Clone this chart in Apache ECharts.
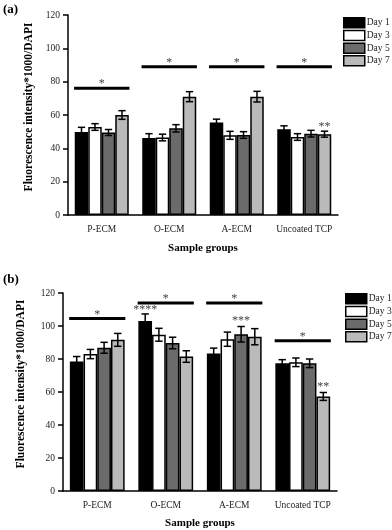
<!DOCTYPE html>
<html>
<head>
<meta charset="utf-8">
<script src="https://cdn.jsdelivr.net/npm/echarts@6/dist/echarts.min.js"></script>
<style>
  html, body { margin: 0; padding: 0; background: #fff; }
  #chart { width: 392px; height: 530px; }
</style>
</head>
<body>
<div id="chart"></div>
<script>
const groups = ['P-ECM', 'O-ECM', 'A-ECM', 'Uncoated TCP'];
const days = ['Day 1', 'Day 3', 'Day 5', 'Day 7'];
const dayColors = ['#000000', '#ffffff', '#6b6b6b', '#bababa'];

// panel (a)
const aDay1 = [49.8, 46.2, 55.5, 51.5];
const aDay3 = [52.8, 46.5, 47.8, 46.8];
const aDay5 = [49.5, 52, 48, 48.8];
const aDay7 = [60, 71, 71, 48.5];
const aErr1 = [2.8, 2.6, 2, 2];
const aErr3 = [2, 2, 2.4, 2];
const aErr5 = [1.8, 2.2, 2, 2];
const aErr7 = [2.6, 3, 3.2, 1.8];
const aGroupSig = [76, 89, 89, 89];
const aBarSig = [[3, 3, 53, '**']]; // group, day, y, label

// panel (b)
const bDay1 = [78.5, 103, 83.3, 77.4];
const bDay3 = [83, 94.7, 92, 78];
const bDay5 = [86.8, 89.7, 95, 77.4];
const bDay7 = [91.6, 81.5, 93.5, 57.3];
const bErr1 = [3, 4.3, 3.3, 2.2];
const bErr3 = [2.8, 3.9, 4.3, 2.6];
const bErr5 = [3.3, 3.5, 4.7, 2.6];
const bErr7 = [3.9, 3.5, 4.9, 2.4];
const bGroupSig = [104.6, 114, 114, 91];
const bBarSig = [[1, 0, 110, '****'], [2, 2, 103, '***'], [3, 3, 63, '**']];

const FONT = 'Liberation Serif';
const chart = echarts.init(document.getElementById('chart'));

const barLayout = (api, g, d, v) => {
  const band = api.size([1, 0])[0];
  const bw = band * 0.8 / 4;
  const c = api.coord([g, v]);
  return { x: c[0] - band * 0.4 + bw * (d + 0.5), bw: bw, band: band, cx: c[0] };
};

const buildPanel = (gi, means, errs, groupSig, barSig) => {
  const series = [];
  means.forEach((vals, d) => {
    series.push({
      name: days[d],
      type: 'bar',
      xAxisIndex: gi,
      yAxisIndex: gi,
      data: vals,
      barGap: '0%',
      barCategoryGap: '20%',
      itemStyle: { color: dayColors[d], borderColor: '#000', borderWidth: 1.5 },
      animation: false
    });
  });

  const errData = [];
  means.forEach((vals, d) => {
    vals.forEach((v, g) => errData.push([g, v, errs[d][g], d]));
  });
  series.push({
    type: 'custom',
    xAxisIndex: gi,
    yAxisIndex: gi,
    data: errData,
    encode: { x: 0, y: 1 },
    z: 5,
    silent: true,
    renderItem: (params, api) => {
      const g = api.value(0), v = api.value(1), e = api.value(2), d = api.value(3);
      const p = barLayout(api, g, d, v);
      const top = api.coord([g, v + e])[1];
      const bot = api.coord([g, v - e])[1];
      const half = p.bw * 0.27;
      const st = { stroke: '#000', lineWidth: 1.5 };
      return {
        type: 'group',
        children: [
          { type: 'line', shape: { x1: p.x, y1: top, x2: p.x, y2: bot }, style: st },
          { type: 'line', shape: { x1: p.x - half, y1: top, x2: p.x + half, y2: top }, style: st },
          { type: 'line', shape: { x1: p.x - half, y1: bot, x2: p.x + half, y2: bot }, style: st }
        ]
      };
    }
  });

  series.push({
    type: 'custom',
    xAxisIndex: gi,
    yAxisIndex: gi,
    data: groupSig.map((y, g) => [g, y]),
    encode: { x: 0, y: 1 },
    z: 5,
    silent: true,
    renderItem: (params, api) => {
      const g = api.value(0), y = api.value(1);
      const c = api.coord([g, y]);
      const band = api.size([1, 0])[0];
      return {
        type: 'group',
        children: [
          { type: 'line', shape: { x1: c[0] - band * 0.41, y1: c[1], x2: c[0] + band * 0.41, y2: c[1] },
            style: { stroke: '#000', lineWidth: 3 } },
          { type: 'text', x: c[0], y: c[1] + 2,
            style: { text: '*', fontFamily: FONT, fontSize: 12, fill: '#444', align: 'center', verticalAlign: 'bottom' } }
        ]
      };
    }
  });

  series.push({
    type: 'custom',
    xAxisIndex: gi,
    yAxisIndex: gi,
    data: barSig.map(s => [s[0], s[2], s[1]]),
    encode: { x: 0, y: 1 },
    z: 5,
    silent: true,
    renderItem: (params, api) => {
      const g = api.value(0), y = api.value(1), d = api.value(2);
      const p = barLayout(api, g, d, y);
      const yy = api.coord([g, y])[1];
      return {
        type: 'text', x: p.x, y: yy,
        style: { text: barSig[params.dataIndex][3], fontFamily: FONT, fontSize: 12, fill: '#444',
          align: 'center', verticalAlign: 'middle' }
      };
    }
  });
  return series;
};

const xAxisOf = (gi, nameGap) => ({
  type: 'category',
  gridIndex: gi,
  data: groups,
  axisLine: { lineStyle: { color: '#000', width: 1.5 } },
  axisTick: { alignWithLabel: true, length: 5, lineStyle: { color: '#000', width: 1.5 } },
  axisLabel: { interval: 0, fontFamily: FONT, fontSize: 9.5, color: '#222', margin: 9 },
  name: 'Sample groups',
  nameLocation: 'middle',
  nameGap: nameGap,
  nameTextStyle: { fontFamily: FONT, fontWeight: 'bold', fontSize: 11, color: '#000' }
});

const yAxisOf = (gi, nameGap) => ({
  type: 'value',
  gridIndex: gi,
  min: 0,
  max: 120,
  interval: 20,
  splitLine: { show: false },
  axisLine: { show: true, lineStyle: { color: '#000', width: 1.5 } },
  axisTick: { show: true, length: 5, lineStyle: { color: '#000', width: 1.5 } },
  axisLabel: { fontFamily: FONT, fontSize: 9.5, color: '#222', margin: 8 },
  name: 'Fluorescence intensity*1000/DAPI',
  nameLocation: 'middle',
  nameGap: nameGap,
  nameTextStyle: { fontFamily: FONT, fontWeight: 'bold', fontSize: 11.5, color: '#000', padding: [0, 0, 0, 16] }
});

const legendOf = (left, top) => ({
  data: days,
  orient: 'vertical',
  left: left,
  top: top,
  padding: 0,
  icon: 'rect',
  itemWidth: 21,
  itemHeight: 10,
  itemGap: 1.2,
  selectedMode: false,
  itemStyle: { borderColor: '#000', borderWidth: 1.5 },
  textStyle: { fontFamily: FONT, fontSize: 9.5, color: '#222', lineHeight: 10, overflow: 'none', padding: [0, 0, 0, -3] }
});

chart.setOption({
  animation: false,
  grid: [
    { left: 68, right: 54, top: 15, bottom: 315 },
    { left: 63, right: 55, top: 293, bottom: 34 }
  ],
  xAxis: [xAxisOf(0, 28), xAxisOf(1, 27)],
  yAxis: [yAxisOf(0, 33), yAxisOf(1, 36)],
  legend: [legendOf(343, 17), legendOf(345, 293)],
  graphic: [
    { type: 'text', left: 3, top: 3, style: { text: '(a)', fontFamily: FONT, fontWeight: 'bold', fontSize: 13, fill: '#000' } },
    { type: 'text', left: 3, top: 273, style: { text: '(b)', fontFamily: FONT, fontWeight: 'bold', fontSize: 13, fill: '#000' } }
  ],
  series: [
    ...buildPanel(0, [aDay1, aDay3, aDay5, aDay7], [aErr1, aErr3, aErr5, aErr7], aGroupSig, aBarSig),
    ...buildPanel(1, [bDay1, bDay3, bDay5, bDay7], [bErr1, bErr3, bErr5, bErr7], bGroupSig, bBarSig)
  ]
});
</script>
</body>
</html>
